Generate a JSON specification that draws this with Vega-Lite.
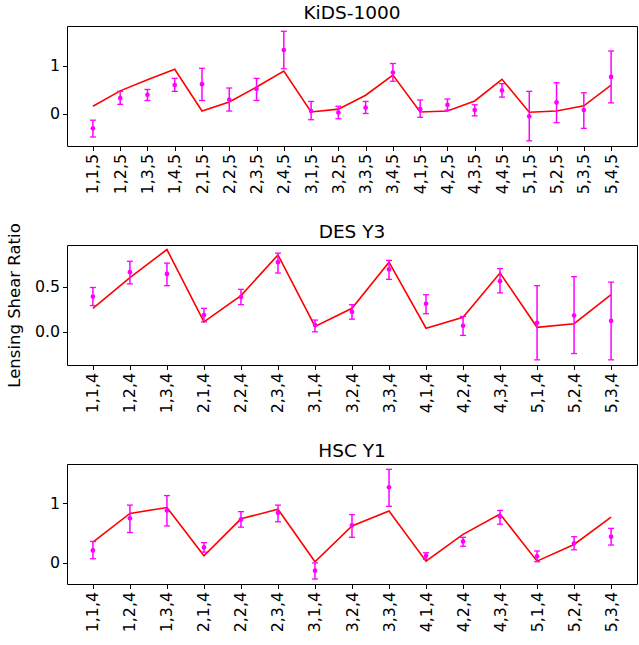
{
  "$schema": "https://vega.github.io/schema/vega-lite/v6.json",
  "background": "white",
  "padding": {"left": 5, "top": 3, "right": 0, "bottom": 0},
  "bounds": "flush",
  "spacing": 99,
  "config": {
    "font": "DejaVu Sans",
    "view": {"stroke": "black", "strokeWidth": 1},
    "axis": {
      "domain": false,
      "grid": false,
      "ticks": true,
      "tickColor": "black",
      "tickSize": 4.5,
      "tickWidth": 1,
      "labelFont": "DejaVu Sans",
      "labelFontSize": 15.8,
      "labelColor": "black",
      "labelPadding": 3,
      "titleFont": "DejaVu Sans",
      "titleFontSize": 16.5,
      "titleFontWeight": "normal",
      "titleColor": "black"
    },
    "title": {"font": "DejaVu Sans", "fontSize": 18.5, "fontWeight": "normal", "color": "black", "offset": 0}
  },
  "datasets": {
    "kids": [
      {"bin": "1,1,5", "model": 0.16, "ratio": -0.30, "lo": -0.48, "hi": -0.13},
      {"bin": "1,2,5", "model": 0.48, "ratio": 0.33, "lo": 0.20, "hi": 0.47},
      {"bin": "1,3,5", "model": 0.71, "ratio": 0.40, "lo": 0.28, "hi": 0.51},
      {"bin": "1,4,5", "model": 0.93, "ratio": 0.60, "lo": 0.47, "hi": 0.74},
      {"bin": "2,1,5", "model": 0.06, "ratio": 0.62, "lo": 0.28, "hi": 0.95},
      {"bin": "2,2,5", "model": 0.25, "ratio": 0.30, "lo": 0.06, "hi": 0.54},
      {"bin": "2,3,5", "model": 0.56, "ratio": 0.52, "lo": 0.28, "hi": 0.74},
      {"bin": "2,4,5", "model": 0.89, "ratio": 1.33, "lo": 0.94, "hi": 1.72},
      {"bin": "3,1,5", "model": 0.04, "ratio": 0.06, "lo": -0.12, "hi": 0.26},
      {"bin": "3,2,5", "model": 0.10, "ratio": 0.03, "lo": -0.10, "hi": 0.16},
      {"bin": "3,3,5", "model": 0.39, "ratio": 0.13, "lo": 0.01, "hi": 0.26},
      {"bin": "3,4,5", "model": 0.81, "ratio": 0.86, "lo": 0.68, "hi": 1.05},
      {"bin": "4,1,5", "model": 0.04, "ratio": 0.10, "lo": -0.07, "hi": 0.29},
      {"bin": "4,2,5", "model": 0.06, "ratio": 0.19, "lo": 0.08, "hi": 0.31},
      {"bin": "4,3,5", "model": 0.27, "ratio": 0.08, "lo": -0.04, "hi": 0.19},
      {"bin": "4,4,5", "model": 0.72, "ratio": 0.49, "lo": 0.35, "hi": 0.63},
      {"bin": "5,1,5", "model": 0.035, "ratio": -0.05, "lo": -0.56, "hi": 0.47},
      {"bin": "5,2,5", "model": 0.06, "ratio": 0.24, "lo": -0.18, "hi": 0.65},
      {"bin": "5,3,5", "model": 0.17, "ratio": 0.08, "lo": -0.30, "hi": 0.44},
      {"bin": "5,4,5", "model": 0.60, "ratio": 0.77, "lo": 0.23, "hi": 1.31}
    ],
    "des": [
      {"bin": "1,1,4", "model": 0.26, "ratio": 0.39, "lo": 0.29, "hi": 0.49},
      {"bin": "1,2,4", "model": 0.60, "ratio": 0.66, "lo": 0.53, "hi": 0.78},
      {"bin": "1,3,4", "model": 0.91, "ratio": 0.64, "lo": 0.51, "hi": 0.76},
      {"bin": "2,1,4", "model": 0.11, "ratio": 0.185, "lo": 0.11, "hi": 0.26},
      {"bin": "2,2,4", "model": 0.40, "ratio": 0.385, "lo": 0.30, "hi": 0.47},
      {"bin": "2,3,4", "model": 0.85, "ratio": 0.77, "lo": 0.65, "hi": 0.87},
      {"bin": "3,1,4", "model": 0.06, "ratio": 0.074, "lo": 0.0, "hi": 0.13},
      {"bin": "3,2,4", "model": 0.26, "ratio": 0.22, "lo": 0.14, "hi": 0.30},
      {"bin": "3,3,4", "model": 0.77, "ratio": 0.69, "lo": 0.58, "hi": 0.79},
      {"bin": "4,1,4", "model": 0.04, "ratio": 0.31, "lo": 0.20, "hi": 0.41},
      {"bin": "4,2,4", "model": 0.16, "ratio": 0.067, "lo": -0.04, "hi": 0.17},
      {"bin": "4,3,4", "model": 0.65, "ratio": 0.56, "lo": 0.43, "hi": 0.70},
      {"bin": "5,1,4", "model": 0.05, "ratio": 0.10, "lo": -0.31, "hi": 0.51},
      {"bin": "5,2,4", "model": 0.09, "ratio": 0.18, "lo": -0.24, "hi": 0.61},
      {"bin": "5,3,4", "model": 0.41, "ratio": 0.12, "lo": -0.31, "hi": 0.55}
    ],
    "hsc": [
      {"bin": "1,1,4", "model": 0.35, "ratio": 0.21, "lo": 0.07, "hi": 0.36},
      {"bin": "1,2,4", "model": 0.83, "ratio": 0.75, "lo": 0.51, "hi": 0.97},
      {"bin": "1,3,4", "model": 0.93, "ratio": 0.88, "lo": 0.62, "hi": 1.13},
      {"bin": "2,1,4", "model": 0.12, "ratio": 0.26, "lo": 0.18, "hi": 0.34},
      {"bin": "2,2,4", "model": 0.74, "ratio": 0.73, "lo": 0.60, "hi": 0.86},
      {"bin": "2,3,4", "model": 0.90, "ratio": 0.84, "lo": 0.69, "hi": 0.97},
      {"bin": "3,1,4", "model": 0.02, "ratio": -0.13, "lo": -0.27, "hi": 0.0},
      {"bin": "3,2,4", "model": 0.62, "ratio": 0.63, "lo": 0.43, "hi": 0.81},
      {"bin": "3,3,4", "model": 0.87, "ratio": 1.27, "lo": 0.95, "hi": 1.57},
      {"bin": "4,1,4", "model": 0.03, "ratio": 0.12, "lo": 0.06, "hi": 0.17},
      {"bin": "4,2,4", "model": 0.48, "ratio": 0.36, "lo": 0.28, "hi": 0.43},
      {"bin": "4,3,4", "model": 0.82, "ratio": 0.78, "lo": 0.65, "hi": 0.88},
      {"bin": "5,1,4", "model": 0.03, "ratio": 0.11, "lo": 0.02, "hi": 0.20},
      {"bin": "5,2,4", "model": 0.31, "ratio": 0.33, "lo": 0.22, "hi": 0.44},
      {"bin": "5,3,4", "model": 0.77, "ratio": 0.44, "lo": 0.30, "hi": 0.58}
    ]
  },
  "vconcat": [
    {
      "title": "KiDS-1000",
      "width": 570,
      "height": 120,
      "data": {"name": "kids"},
      "encoding": {
        "x": {"field": "bin", "type": "nominal", "sort": null, "scale": {"type": "point", "padding": 0.95}, "axis": {"title": null, "labelAngle": -90}}
      },
      "layer": [
        {"mark": {"type": "line", "color": "#ff0000", "strokeWidth": 1.6},
         "encoding": {"y": {"field": "model", "type": "quantitative", "title": "Lensing Shear Ratio", "scale": {"domain": [-0.667, 1.83], "nice": false, "zero": false}, "axis": {"values": [0, 1], "format": "d", "titleX": -53, "titleY": 279, "titleBaseline": "middle", "titleAngle": -90}}}},
        {"mark": {"type": "rule", "color": "#ff00ff", "strokeWidth": 1.5},
         "encoding": {"y": {"field": "lo", "type": "quantitative", "title": "Lensing Shear Ratio"}, "y2": {"field": "hi"}}},
        {"mark": {"type": "tick", "color": "#ff00ff", "size": 6, "thickness": 1.3, "opacity": 1},
         "encoding": {"y": {"field": "lo", "type": "quantitative", "title": "Lensing Shear Ratio"}}},
        {"mark": {"type": "tick", "color": "#ff00ff", "size": 6, "thickness": 1.3, "opacity": 1},
         "encoding": {"y": {"field": "hi", "type": "quantitative", "title": "Lensing Shear Ratio"}}},
        {"mark": {"type": "circle", "color": "#ff00ff", "size": 22, "opacity": 1},
         "encoding": {"y": {"field": "ratio", "type": "quantitative", "title": "Lensing Shear Ratio"}}}
      ]
    },
    {
      "title": "DES Y3",
      "width": 570,
      "height": 120,
      "data": {"name": "des"},
      "encoding": {
        "x": {"field": "bin", "type": "nominal", "sort": null, "scale": {"type": "point", "padding": 0.7}, "axis": {"title": null, "labelAngle": -90}}
      },
      "layer": [
        {"mark": {"type": "line", "color": "#ff0000", "strokeWidth": 1.6},
         "encoding": {"y": {"field": "model", "type": "quantitative", "title": null, "scale": {"domain": [-0.367, 0.96], "nice": false, "zero": false}, "axis": {"values": [0, 0.5], "format": ".1f"}}}},
        {"mark": {"type": "rule", "color": "#ff00ff", "strokeWidth": 1.5},
         "encoding": {"y": {"field": "lo", "type": "quantitative", "title": null}, "y2": {"field": "hi"}}},
        {"mark": {"type": "tick", "color": "#ff00ff", "size": 6, "thickness": 1.3, "opacity": 1},
         "encoding": {"y": {"field": "lo", "type": "quantitative", "title": null}}},
        {"mark": {"type": "tick", "color": "#ff00ff", "size": 6, "thickness": 1.3, "opacity": 1},
         "encoding": {"y": {"field": "hi", "type": "quantitative", "title": null}}},
        {"mark": {"type": "circle", "color": "#ff00ff", "size": 22, "opacity": 1},
         "encoding": {"y": {"field": "ratio", "type": "quantitative", "title": null}}}
      ]
    },
    {
      "title": "HSC Y1",
      "width": 570,
      "height": 120,
      "data": {"name": "hsc"},
      "encoding": {
        "x": {"field": "bin", "type": "nominal", "sort": null, "scale": {"type": "point", "padding": 0.7}, "axis": {"title": null, "labelAngle": -90}}
      },
      "layer": [
        {"mark": {"type": "line", "color": "#ff0000", "strokeWidth": 1.6},
         "encoding": {"y": {"field": "model", "type": "quantitative", "title": null, "scale": {"domain": [-0.354, 1.66], "nice": false, "zero": false}, "axis": {"values": [0, 1], "format": "d"}}}},
        {"mark": {"type": "rule", "color": "#ff00ff", "strokeWidth": 1.5},
         "encoding": {"y": {"field": "lo", "type": "quantitative", "title": null}, "y2": {"field": "hi"}}},
        {"mark": {"type": "tick", "color": "#ff00ff", "size": 6, "thickness": 1.3, "opacity": 1},
         "encoding": {"y": {"field": "lo", "type": "quantitative", "title": null}}},
        {"mark": {"type": "tick", "color": "#ff00ff", "size": 6, "thickness": 1.3, "opacity": 1},
         "encoding": {"y": {"field": "hi", "type": "quantitative", "title": null}}},
        {"mark": {"type": "circle", "color": "#ff00ff", "size": 22, "opacity": 1},
         "encoding": {"y": {"field": "ratio", "type": "quantitative", "title": null}}}
      ]
    }
  ]
}
